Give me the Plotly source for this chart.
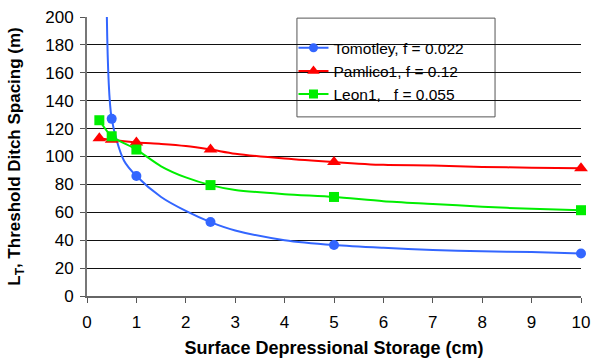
import plotly.graph_objects as go

# ---- data ----
tom_x = [0.4, 0.5, 0.75, 1, 1.5, 2, 2.5, 3, 4, 5, 6, 7, 8, 9, 10]
tom_y = [205, 127, 97, 86, 71, 61, 53, 47, 40, 36.5, 34.5, 33, 32, 31.5, 30.5]
tom_mx = [0.5, 1, 2.5, 5, 10]
tom_my = [127, 86, 53, 36.5, 30.5]

pam_x = [0.25, 0.5, 1, 1.5, 2, 2.5, 3, 4, 5, 6, 7, 8, 9, 10]
pam_y = [113, 112, 110, 109, 107.5, 105, 102, 98.5, 96, 94, 93.5, 92.5, 92, 91.5]
pam_mx = [0.25, 0.5, 1, 2.5, 5, 10]
pam_my = [113, 112, 110, 105, 96, 91.5]

leo_x = [0.25, 0.5, 1, 1.5, 2, 2.5, 3, 4, 5, 6, 7, 8, 9, 10]
leo_y = [126, 114.5, 105, 93, 85, 79.5, 76, 73, 71, 68, 66, 64, 62.5, 61.5]
leo_mx = [0.25, 0.5, 1, 2.5, 5, 10]
leo_my = [126, 114.5, 105, 79.5, 71, 61.5]

names = ["Tomotley, f = 0.022", "Pamlico1, f = 0.12", "Leon1,   f = 0.055"]
colors = ["#3366FF", "#FF0000", "#00EE00"]
symbols = ["circle", "triangle-up", "square"]
msizes = [10, 12, 10]

series = [(tom_x, tom_y, tom_mx, tom_my), (pam_x, pam_y, pam_mx, pam_my), (leo_x, leo_y, leo_mx, leo_my)]

FONT = "Liberation Sans, Arial, Helvetica, sans-serif"

fig = go.Figure()
for i, (lx, ly, mx, my) in enumerate(series):
    g = "g%d" % i
    fig.add_trace(go.Scatter(x=lx, y=ly, mode="lines", line=dict(color=colors[i], width=2, shape="spline", smoothing=0.8),
                             showlegend=False, legendgroup=g, hoverinfo="skip"))
    fig.add_trace(go.Scatter(x=mx, y=my, mode="markers", marker=dict(color=colors[i], symbol=symbols[i], size=msizes[i]),
                             showlegend=False, legendgroup=g, cliponaxis=False))
    fig.add_trace(go.Scatter(x=[None], y=[None], mode="lines+markers", name=names[i], legendgroup=g,
                             line=dict(color=colors[i], width=2),
                             marker=dict(color=colors[i], symbol=symbols[i], size=msizes[i] - 1)))

# legend frame
fig.add_shape(type="rect", xref="paper", yref="paper", x0=0.425, x1=0.826, y0=0.642, y1=0.996,
              fillcolor="white", line=dict(color="#555555", width=1), layer="between")

fig.update_layout(
    width=593, height=362,
    margin=dict(l=87, r=12, t=17, b=66),
    paper_bgcolor="white", plot_bgcolor="white",
    font=dict(family=FONT, size=15, color="black"),
    showlegend=True,
    legend=dict(x=0.418, y=0.949, xanchor="left", yanchor="top", bgcolor="rgba(0,0,0,0)",
                borderwidth=0, font=dict(size=15.5, family=FONT), traceorder="grouped", tracegroupgap=0),
    xaxis=dict(range=[0, 10], dtick=1, tick0=0, ticks="outside", ticklen=5, tickcolor="#555555",
               showline=True, linecolor="#666666", linewidth=1.5, showgrid=False, zeroline=False,
               tickfont=dict(size=17), ticklabelstandoff=5, automargin=False,
               title=dict(text="Surface Depressional Storage (cm)", font=dict(size=18, weight="bold"), standoff=10)),
    yaxis=dict(range=[0, 200], dtick=20, tick0=0, ticks="outside", ticklen=5, tickcolor="#555555",
               showline=True, linecolor="#777777", linewidth=2, showgrid=True, gridcolor="#111111", gridwidth=1,
               zeroline=False, tickfont=dict(size=17), ticklabelstandoff=3, automargin=False,
               title=dict(text="L<sub>T</sub>, Threshold Ditch Spacing (m)", font=dict(size=17, weight="bold"), standoff=20)),
)

fig.write_html("out.html", config={"displayModeBar": False},
               post_script="document.body.style.margin='0';document.body.style.padding='0';")
